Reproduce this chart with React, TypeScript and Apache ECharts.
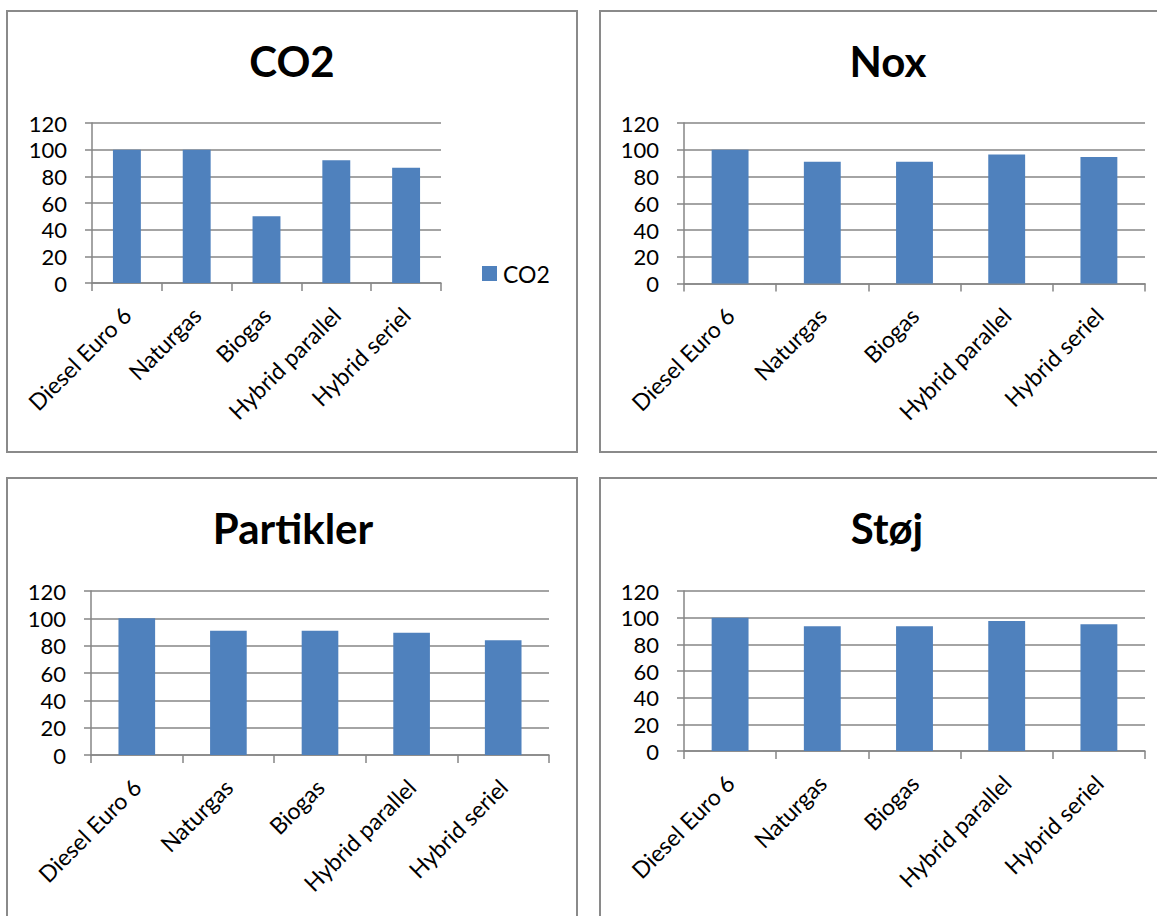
import React, { useEffect, useRef } from "react";
import * as echarts from "echarts";

const categories = ["Diesel Euro 6", "Naturgas", "Biogas", "Hybrid parallel", "Hybrid seriel"];
const co2Values = [100, 100, 50, 92, 86.5];
const noxValues = [100, 91, 91, 96.5, 94.5];
const partiklerValues = [100, 91, 91, 89.5, 84];
const stojValues = [100, 93.5, 93.5, 97.5, 95];
const panelTitles = ["CO2", "Nox", "Partikler", "Støj"];
const legendItems = ["CO2"];

const FONT = "Lato, 'Open Sans', sans-serif";
const GRAY = "#868686";
const BAR = "#4F81BD";

// layout of the four panels
const panels = [
  { grid: { left: 92, top: 123, width: 349, height: 160 }, titleX: 292, titleTop: 40, border: { x: 7, y: 11, w: 570, h: 441 } },
  { grid: { left: 684, top: 123, width: 461, height: 160.5 }, titleX: 888, titleTop: 40, border: { x: 600, y: 11, w: 620, h: 441 } },
  { grid: { left: 91, top: 591, width: 458, height: 164 }, titleX: 293, titleTop: 507, border: { x: 7, y: 478, w: 570, h: 500 } },
  { grid: { left: 684, top: 591, width: 461, height: 160 }, titleX: 887, titleTop: 507, border: { x: 600, y: 478, w: 620, h: 500 } },
];

export default function App() {
  const ref = useRef<HTMLDivElement>(null);
  useEffect(() => {
    if (!ref.current) return;
    const chart = echarts.init(ref.current, null, { renderer: "svg" });
    const seriesData = [co2Values, noxValues, partiklerValues, stojValues];

    const option: any = {
      animation: false,
      backgroundColor: "#ffffff",
      textStyle: { fontFamily: FONT },
      title: panels.map((p, i) => ({
        text: panelTitles[i],
        left: p.titleX,
        top: p.titleTop,
        textAlign: "center",
        padding: 0,
        textStyle: { fontFamily: FONT, fontSize: 42, fontWeight: "bold", color: "#000" },
      })),
      legend: {
        data: legendItems,
        left: 482,
        top: 262,
        padding: 0,
        itemWidth: 15,
        itemHeight: 15,
        icon: "rect",
        itemStyle: { borderWidth: 0 },
        textStyle: { fontFamily: FONT, fontSize: 23, color: "#000", padding: [0, 0, 0, 1] },
        selectedMode: false,
      },
      grid: panels.map((p) => ({ ...p.grid, containLabel: false })),
      xAxis: panels.map((p, i) => ({
        type: "category",
        gridIndex: i,
        data: categories,
        axisLine: { show: true, lineStyle: { color: GRAY, width: 1.5 } },
        axisTick: { show: true, alignWithLabel: false, length: 8, lineStyle: { color: GRAY, width: 1.5 } },
        axisLabel: { interval: 0, rotate: 45, margin: 28, fontSize: 23, lineHeight: 22, color: "#000", fontFamily: FONT },
        splitLine: { show: false },
      })),
      yAxis: panels.map((p, i) => ({
        type: "value",
        gridIndex: i,
        min: 0,
        max: 120,
        interval: 20,
        axisLine: { show: true, lineStyle: { color: GRAY, width: 1.5 } },
        axisTick: { show: true, length: 7, lineStyle: { color: GRAY, width: 1.5 } },
        axisLabel: { margin: 25, fontSize: 22, lineHeight: 20, color: "#000", fontFamily: FONT },
        splitLine: { show: true, lineStyle: { color: GRAY, width: 1.5 } },
      })),
      series: seriesData.map((d, i) => ({
        type: "bar",
        name: panelTitles[i],
        xAxisIndex: i,
        yAxisIndex: i,
        data: d,
        barCategoryGap: "60%",
        itemStyle: { color: BAR },
      })),
      graphic: panels.map((p) => ({
        type: "rect",
        shape: { x: p.border.x, y: p.border.y, width: p.border.w, height: p.border.h },
        style: { fill: "none", stroke: "#8a8a8a", lineWidth: 2 },
        silent: true,
        z: 100,
      })),
    };
    chart.setOption(option);
    return () => chart.dispose();
  }, []);
  return (
    <div
      ref={ref}
      style={{ position: "absolute", left: 0, top: 0, width: 1157, height: 916, background: "#fff" }}
    />
  );
}
